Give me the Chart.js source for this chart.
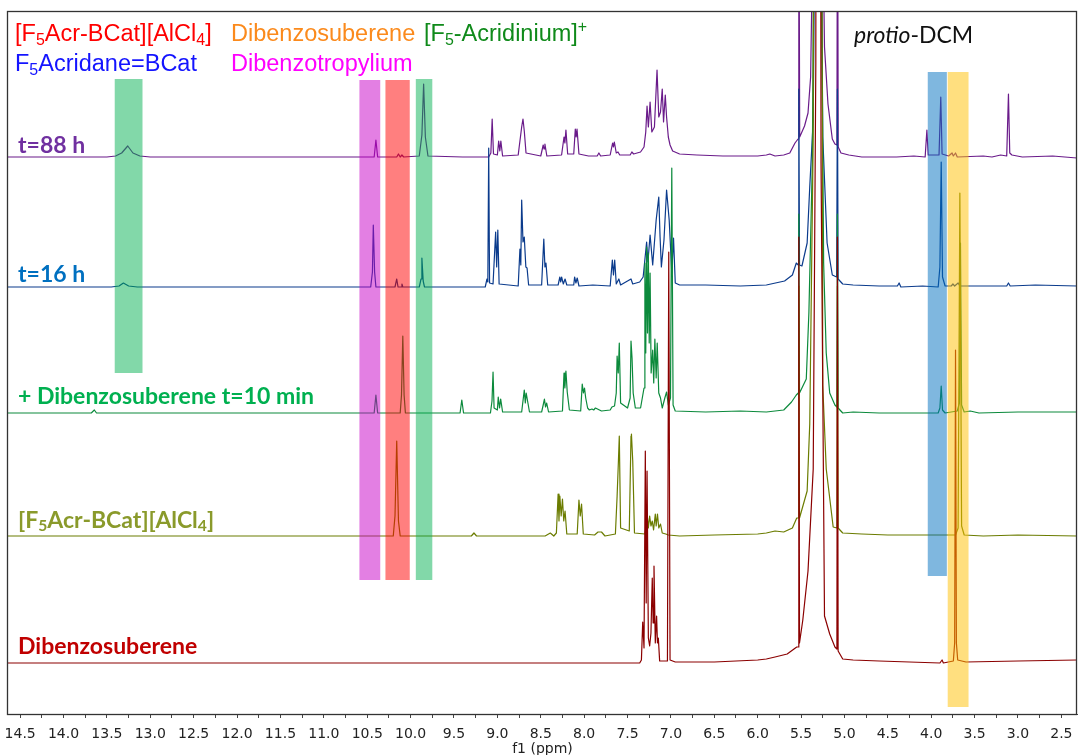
<!DOCTYPE html>
<html>
<head>
<meta charset="utf-8">
<script src="https://cdn.jsdelivr.net/npm/chart.js@4.4.1/dist/chart.umd.min.js"></script>
<style>
  html, body { margin: 0; padding: 0; background: #fff; }
  #wrap { position: relative; width: 1080px; height: 755px; }
  .lab { position: absolute; white-space: nowrap; line-height: 1; transform: translateY(-50%); }
  .leg { font-family: "Liberation Sans", Arial, sans-serif; font-size: 23.5px; }
  .spec { font-family: Lato, sans-serif; font-weight: 700; font-size: 23px; }
  sub { font-size: 0.68em; vertical-align: -0.22em; line-height: 0; }
  sup { font-size: 0.68em; vertical-align: 0.55em; line-height: 0; }
</style>
</head>
<body>
<div id="wrap">
  <canvas id="nmr" width="1080" height="755"></canvas>

  <div class="lab leg" style="left:15px; top:34px; color:#ff0000">[F<sub>5</sub>Acr-BCat][AlCl<sub>4</sub>]</div>
  <div class="lab leg" style="left:231px; top:34px; color:#fb8a1c">Dibenzosuberene</div>
  <div class="lab leg" style="left:424px; top:34px; color:#0f8a1a">[F<sub>5</sub>-Acridinium]<sup>+</sup></div>
  <div class="lab leg" style="left:15px; top:64px; color:#1414ff">F<sub>5</sub>Acridane=BCat</div>
  <div class="lab leg" style="left:231px; top:64px; color:#ff00ff">Dibenzotropylium</div>
  <div class="lab" style="left:854px; top:34px; color:#111; font-family:Lato, sans-serif; font-size:23px"><i>protio</i>-DCM</div>

  <div class="lab spec" style="left:18px; top:144px; color:#7030a0">t=88 h</div>
  <div class="lab spec" style="left:18px; top:273px; color:#0070c0">t=16 h</div>
  <div class="lab spec" style="left:18px; top:395px; color:#00b050">+ Dibenzosuberene t=10 min</div>
  <div class="lab spec" style="left:18px; top:519px; color:#8a9a2b">[F<sub>5</sub>Acr-BCat][AlCl<sub>4</sub>]</div>
  <div class="lab spec" style="left:18px; top:645px; color:#c00000">Dibenzosuberene</div>
</div>

<script>
// spectra: shift (ppm) and height above each baseline
const names = ['Dibenzosuberene', '[F5Acr-BCat][AlCl4]', '+ Dibenzosuberene t=10 min', 't=16 h', 't=88 h'];

const ppm88 = [14.64, 13.50, 13.40, 13.33, 13.26, 13.20, 13.12, 13.00, 11.50, 10.42, 10.40, 10.38, 10.16, 10.14, 10.12, 10.10, 10.08,
  9.90, 9.87, 9.85, 9.83, 9.80, 9.40, 9.10, 9.075, 9.06, 9.045, 9.00, 8.985, 8.972, 8.96, 8.94, 8.76, 8.72, 8.705, 8.69, 8.67,
  8.50, 8.472, 8.462, 8.452, 8.43, 8.26, 8.232, 8.222, 8.21, 8.19, 8.12, 8.102, 8.092, 8.082, 8.06, 7.95, 7.85, 7.83, 7.81,
  7.70, 7.672, 7.662, 7.652, 7.63, 7.61, 7.59, 7.47, 7.45, 7.43, 7.35, 7.31, 7.29, 7.275, 7.26, 7.24, 7.22, 7.19, 7.16, 7.14,
  7.12, 7.10, 7.085, 7.065, 7.05, 7.03, 7.01, 6.98, 6.90, 6.70, 6.40, 6.00, 5.90, 5.86, 5.80, 5.70, 5.63, 5.57, 5.535, 5.526,
  5.516, 5.46, 5.42, 5.39, 5.36, 5.31, 5.26, 5.23, 5.19, 5.14, 5.11, 5.087, 5.08, 5.072, 5.04, 4.95, 4.80, 4.40, 4.20, 4.07,
  4.05, 4.035, 3.91, 3.89, 3.875, 3.80, 3.76, 3.745, 3.72, 3.70, 3.40, 3.30, 3.20, 3.13, 3.11, 3.095, 3.07, 2.95, 2.60, 2.32];
const int88 = [0, 0, 1, 4, 11, 4, 1, 0, 0, 0, 17, 0, 0, 3, 0, 2, 0,
  1, 22, 73, 20, 1, 0, 0, 4, 38, 3, 2, 16, 6, 16, 1, 2, 30, 38, 26, 4,
  1, 12, 8, 13, 1, 2, 20, 14, 27, 3, 3, 28, 20, 28, 3, 1, 1, 4, 1,
  2, 14, 10, 15, 4, 5, 2, 2, 5, 3, 5, 10, 25, 51, 30, 55, 25, 30, 87, 40,
  45, 68, 35, 62, 40, 20, 12, 6, 3, 2, 1, 1, 2, 3, 1, 2, 4, 14, 18, 320,
  20, 31, 44, 80, 250, 3000, 300, 110, 53, 18, 13, 12, 320, 10, 4, 2, 0, 0, 1, 0,
  27, 2, 2, 60, 3, 1, 4, 1, 4, 0, 1, 0, 2, 1, 63, 4, 2, 0, 1, -1];

const ppm16 = [14.64, 13.45, 13.36, 13.31, 13.25, 13.15, 11.00, 10.46, 10.44, 10.43, 10.415, 10.40, 10.18, 10.16, 10.145, 10.11, 10.10, 10.09,
  9.90, 9.88, 9.87, 9.855, 9.84, 9.50, 9.14, 9.12, 9.11, 9.10, 9.09, 9.05, 9.02, 9.008, 8.995, 8.98, 8.76, 8.74, 8.73, 8.72, 8.705,
  8.69, 8.672, 8.658, 8.64, 8.49, 8.465, 8.452, 8.44, 8.42, 8.30, 8.28, 8.27, 8.26, 8.24, 8.22, 8.20, 8.12, 8.11, 8.095, 8.08, 8.06,
  7.90, 7.70, 7.675, 7.662, 7.648, 7.63, 7.60, 7.58, 7.46, 7.44, 7.36, 7.32, 7.28, 7.265, 7.24, 7.21, 7.17, 7.14, 7.125, 7.11,
  7.08, 7.05, 7.02, 6.99, 6.97, 6.95, 6.90, 6.60, 6.20, 5.90, 5.69, 5.60, 5.555, 5.532, 5.526, 5.518, 5.49, 5.43, 5.40, 5.36,
  5.33, 5.31, 5.27, 5.25, 5.20, 5.14, 5.09, 5.081, 5.073, 5.02, 4.90, 4.60, 4.39, 4.37, 4.35, 4.10, 3.92, 3.90, 3.885, 3.87,
  3.84, 3.77, 3.75, 3.73, 3.69, 3.67, 3.30, 3.13, 3.11, 3.09, 2.80, 2.32];
const int16 = [0, 0, 1, 4, 1, 0, 0, 0, 15, 62, 15, 0, 0, 8, 0, 0, 3, 0,
  0, 8, 29, 6, 0, 0, 0, 8, 5, 139, 4, 3, 55, 20, 57, 3, 1, 38, 22, 87, 45,
  50, 20, 19, 2, 2, 48, 20, 24, 2, 2, 10, 5, 10, 3, 8, 2, 2, 10, 4, 9, 1,
  2, 1, 27, 12, 27, 3, 8, 2, 8, 3, 5, 10, 45, 25, 52, 22, 67, 90, 50, 20,
  47, 97, 67, 14, 49, 4, 2, 2, 1, 2, 6, 12, 24, 22, 198, 22, 21, 44, 100, 167,
  500, 3000, 400, 150, 44, 12, 10, 198, 8, 3, 2, 1, 1, 4, 0, 1, 0, 20, 125, 10,
  1, 1, 3, 1, 4, 1, 1, 1, 4, 1, 2, 1];

const ppm10 = [14.64, 13.68, 13.645, 13.62, 11.00, 10.42, 10.40, 10.38, 10.12, 10.105, 10.09, 10.075, 10.06, 9.43, 9.41, 9.39,
  9.08, 9.062, 9.05, 9.038, 9.00, 8.99, 8.975, 8.962, 8.94, 8.72, 8.69, 8.678, 8.668, 8.652, 8.63, 8.49, 8.472, 8.458, 8.445, 8.432,
  8.41, 8.25, 8.232, 8.222, 8.21, 8.195, 8.17, 8.04, 8.022, 8.008, 7.996, 7.982, 7.96, 7.94, 7.91, 7.89, 7.87, 7.80, 7.70, 7.68,
  7.65, 7.63, 7.62, 7.607, 7.595, 7.58, 7.50, 7.47, 7.46, 7.448, 7.435, 7.41, 7.35, 7.31, 7.30, 7.29, 7.28, 7.27, 7.26, 7.25,
  7.24, 7.228, 7.21, 7.198, 7.185, 7.17, 7.158, 7.14, 7.12, 7.10, 7.07, 7.05, 7.03, 7.005, 6.99, 6.975, 6.95, 6.60, 6.20, 5.90,
  5.70, 5.61, 5.555, 5.532, 5.526, 5.518, 5.44, 5.41, 5.37, 5.33, 5.31, 5.27, 5.24, 5.21, 5.17, 5.11, 5.087, 5.081, 5.073, 5.02,
  4.90, 4.60, 3.92, 3.90, 3.885, 3.87, 3.84, 3.70, 3.675, 3.663, 3.65, 3.62, 3.55, 3.45, 3.00, 2.32];
const int10 = [0, 0, 3, 0, 0, 0, 18, 0, 0, 18, 77, 18, 0, 0, 13, 0,
  0, 12, 41, 5, 3, 16, 5, 14, 1, 1, 23, 10, 20, 12, 1, 1, 8, 14, 6, 10,
  1, 2, 40, 25, 42, 21, 3, 2, 29, 20, 25, 15, 5, 3, 4, 3, 5, 2, 3, 6,
  7, 20, 57, 40, 70, 10, 5, 15, 72, 55, 20, 5, 5, 25, 150, 60, 166, 80, 160, 70,
  140, 40, 63, 30, 74, 35, 70, 20, 15, 5, 15, 21, 8, 15, 245, 8, 2, 1, 2, 1,
  3, 11, 18, 20, 199, 20, 34, 100, 250, 800, 3000, 500, 150, 60, 20, 8, 6, 199, 5, 0,
  1, 0, 0, 5, 27, 3, 0, 2, 10, 170, 8, 1, 2, 0, 1, 1];

const ppmSalt = [14.64, 12.00, 10.20, 10.18, 10.16, 10.14, 10.12, 9.30, 9.27, 9.24, 8.45, 8.39, 8.35, 8.32, 8.30, 8.29, 8.28, 8.265,
  8.25, 8.235, 8.22, 8.20, 8.08, 8.06, 8.045, 8.03, 8.01, 7.88, 7.84, 7.80, 7.76, 7.64, 7.62, 7.605, 7.595, 7.58, 7.48, 7.46,
  7.455, 7.44, 7.42, 7.30, 7.27, 7.26, 7.245, 7.23, 7.215, 7.20, 7.18, 7.17, 7.155, 7.14, 7.12, 7.10, 7.06, 7.03, 6.90, 6.50,
  6.00, 5.90, 5.80, 5.70, 5.60, 5.55, 5.532, 5.526, 5.518, 5.43, 5.40, 5.36, 5.31, 5.25, 5.21, 5.13, 5.087, 5.081, 5.073, 5.02,
  4.80, 4.50, 3.72, 3.69, 3.67, 3.65, 3.62, 3.40, 3.00, 2.32];
const intSalt = [0, 0, 0, 20, 95, 15, 0, 0, 3, 0, 0, 3, 0, 3, 42, 15, 40, 20,
  37, 15, 25, 2, 2, 36, 20, 32, 2, 1, 4, 4, 0, 2, 40, 75, 100, 8, 5, 100,
  102, 75, 3, 2, 18, 8, 20, 10, 15, 6, 22, 10, 22, 8, 12, 3, 2, 1, 0, 1,
  2, 3, 5, 4, 8, 18, 18, 250, 18, 45, 112, 400, 3000, 150, 67, 9, 8, 250, 8, 3,
  2, 1, 1, 8, 343, 10, 1, 0, 1, 0];

const ppmDbs = [14.64, 12.00, 7.36, 7.34, 7.325, 7.31, 7.295, 7.285, 7.275, 7.26, 7.245, 7.23, 7.215, 7.205, 7.195, 7.18, 7.165,
  7.155, 7.145, 7.13, 7.04, 7.025, 7.01, 6.95, 6.50, 6.00, 5.90, 5.80, 5.66, 5.55, 5.532, 5.526, 5.518, 5.48, 5.42, 5.36, 5.33,
  5.31, 5.27, 5.23, 5.17, 5.11, 5.087, 5.081, 5.073, 5.02, 4.90, 4.60, 3.90, 3.875, 3.86, 3.745, 3.73, 3.72, 3.71, 3.695, 3.60,
  3.00, 2.32];
const intDbs = [0, 0, 0, 3, 41, 15, 212, 60, 192, 25, 17, 30, 85, 40, 97, 20, 47,
  20, 25, 2, 2, 411, 3, 1, 1, 3, 4, 6, 9, 16, 16, 426, 20, 43, 92, 194, 600,
  3000, 500, 47, 29, 16, 14, 426, 12, 4, 3, 2, 0, 3, 0, 2, 20, 313, 20, 3, 1,
  2, 3];

const lineColors = ['#8b0000', '#6b7c00', '#0c8a3c', '#0b3b8c', '#6a1b8a'];

// highlighted regions (ppm range, vertical extent in chart units)
const bands = [
  { from: 13.41, to: 13.09, top: 635, bottom: 341, color: 'rgba(0,176,80,0.49)' },
  { from: 10.59, to: 10.35, top: 634, bottom: 134, color: 'rgba(200,0,200,0.5)' },
  { from: 10.29, to: 10.01, top: 634, bottom: 134, color: 'rgba(255,0,0,0.5)' },
  { from: 9.94, to: 9.75, top: 635, bottom: 134, color: 'rgba(0,176,80,0.49)' },
  { from: 4.04, to: 3.82, top: 642, bottom: 138, color: 'rgba(0,112,192,0.5)' },
  { from: 3.81, to: 3.57, top: 642, bottom: 7, color: 'rgba(255,192,0,0.5)' }
];

const spectra = [[ppmDbs, intDbs], [ppmSalt, intSalt], [ppm10, int10], [ppm16, int16], [ppm88, int88]];
const baselines = [51, 178, 301, 427, 557];

const datasets = spectra.map(([ppm, inten], i) => ({
  label: names[i],
  data: ppm.map((p, k) => ({ x: p, y: inten[k] + baselines[i] })),
  showLine: true,
  borderColor: lineColors[i],
  borderWidth: 1.2,
  borderJoinStyle: 'round',
  pointRadius: 0,
  tension: 0
}));

const bandPlugin = {
  id: 'bands',
  afterDatasetsDraw(chart) {
    const { ctx, scales: { x, y } } = chart;
    ctx.save();
    bands.forEach(b => {
      const x1 = x.getPixelForValue(b.from), x2 = x.getPixelForValue(b.to);
      const y1 = y.getPixelForValue(b.top), y2 = y.getPixelForValue(b.bottom);
      ctx.fillStyle = b.color;
      ctx.fillRect(Math.min(x1, x2), y1, Math.abs(x2 - x1), y2 - y1);
    });
    ctx.restore();
  }
};

const framePlugin = {
  id: 'frame',
  afterDraw(chart) {
    const { ctx, chartArea: a } = chart;
    ctx.save();
    ctx.strokeStyle = '#333';
    ctx.lineWidth = 1.3;
    ctx.strokeRect(a.left - 0.5, a.top + 0.5, a.right - a.left, a.bottom - a.top);
    ctx.restore();
  }
};

new Chart(document.getElementById('nmr'), {
  type: 'scatter',
  data: { datasets },
  plugins: [bandPlugin, framePlugin],
  options: {
    responsive: false,
    animation: false,
    devicePixelRatio: 1,
    layout: { padding: { left: 8, right: 3, top: 11, bottom: 0 } },
    plugins: { legend: { display: false }, tooltip: { enabled: false } },
    scales: {
      x: {
        type: 'linear',
        reverse: true,
        min: 2.32,
        max: 14.64,
        afterFit(s) { s.height = 41; s.paddingLeft = 0; s.paddingRight = 0; },
        border: { display: true, color: '#444', width: 1 },
        grid: { drawOnChartArea: false, drawTicks: true, tickLength: 4, color: '#444' },
        ticks: {
          stepSize: 0.25,
          autoSkip: false,
          includeBounds: false,
          maxRotation: 0,
          padding: 8,
          color: '#222',
          font: { family: '"DejaVu Sans"', size: 14 },
          callback: v => (Math.abs(v * 2 - Math.round(v * 2)) < 1e-6 ? v.toFixed(1) : '')
        },
        title: {
          display: true,
          text: 'f1 (ppm)',
          color: '#222',
          font: { family: '"DejaVu Sans"', size: 14, lineHeight: 1 },
          padding: { top: 0, bottom: -1 }
        }
      },
      y: { display: false, min: 0, max: 703 }
    }
  }
});
</script>
</body>
</html>
